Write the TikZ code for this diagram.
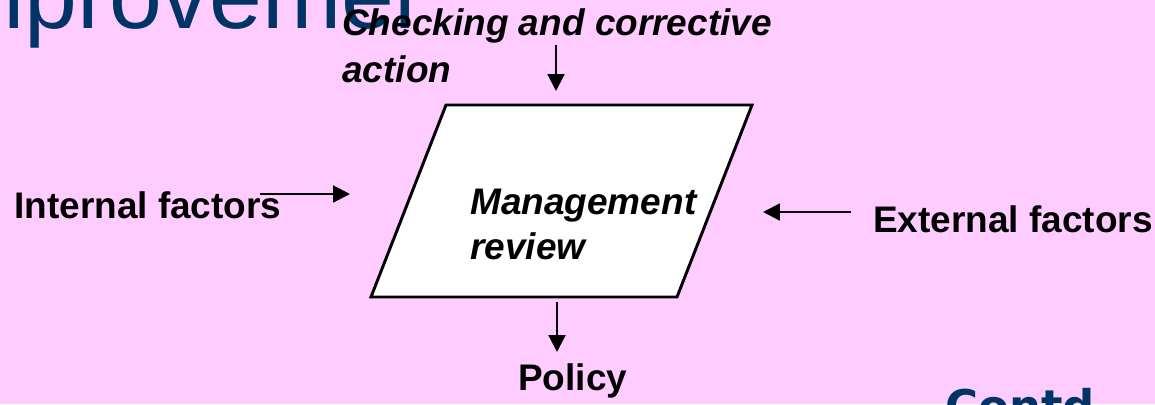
\documentclass[tikz,border=0pt]{standalone}
\usepackage{fontspec}
\setmainfont{Liberation Sans}
\newfontfamily\contdfont{DejaVu Sans}
\usepackage{tikz}
\usetikzlibrary{positioning}
\usetikzlibrary{arrows.meta}
\definecolor{slidepink}{RGB}{255,204,255}
\definecolor{slideblue}{RGB}{0,51,102}

\begin{document}
\begin{tikzpicture}[
  x=0.025cm,y=-0.025cm,
  label/.style={font=\fontsize{26.3}{33.4}\selectfont\bfseries,inner sep=0pt,align=left,anchor=base west},
  flow/.style={line width=1.5pt,-{Triangle[length=12pt,width=12pt]}}
  ]
  \useasboundingbox (0,0) rectangle (1155,404);
  \fill [slidepink] (0,0) rectangle (1155,404);
  \clip (0,0) rectangle (1155,404);
  \begin{scope}
    \clip (0,0) rectangle (415,404);
    \node (title)  [label,font=\fontsize{67.6}{72}\selectfont,text=slideblue] at (-76,28) {improvement};
  \end{scope}
  \draw [line width=2.1pt,fill=white] (446,105) coordinate (boxnw) -- (752,105) coordinate (boxne)
    -- (677,297) coordinate (boxse) -- (371,297) coordinate (boxsw) -- cycle;
  \node (checking) [label,font=\fontsize{26.3}{33.4}\selectfont\bfseries\itshape] at (342,82) {Checking and corrective\\action};
  \node (review)   [label,font=\fontsize{26.3}{32}\selectfont\bfseries\itshape] at (470,259) {Management\\review};
  \node (internal) [label] at (14,218) {Internal factors};
  \node (external) [label] at (873,232) {External factors};
  \node (policy)   [label] at (518,390) {Policy};
  \node (contd)    [label,font=\contdfont\fontsize{32}{36}\selectfont\bfseries,text=slideblue] at (945,422) {Contd..};
  \coordinate (checkout) at (556,45);
  \coordinate (checkin)  at (556,91);
  \coordinate (intout)   at (260,194);
  \coordinate (intin)    at (350,194);
  \coordinate (extout)   at (851,212);
  \coordinate (extin)    at (763,212);
  \coordinate (revout)   at (557,302);
  \coordinate (polin)    at (557,352);
  \draw [flow] (checkout) -- (checkin);
  \draw [flow] (intout) -- (intin);
  \draw [flow] (extout) -- (extin);
  \draw [flow] (revout) -- (polin);
\end{tikzpicture}
\end{document}
